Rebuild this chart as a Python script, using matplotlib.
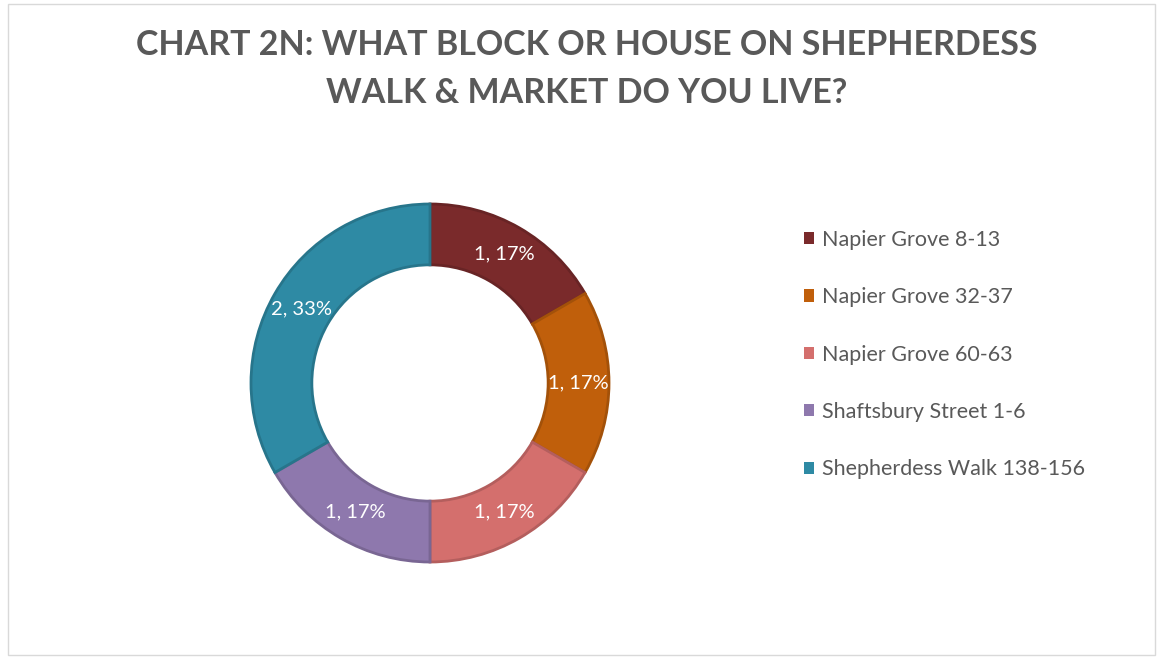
#!/usr/bin/env python
# -*- coding: utf-8 -*-

"""
Donut chart: which block or house on Shepherdess Walk & Market do you live?
"""

import matplotlib
matplotlib.use("Agg")
import matplotlib.pyplot as plt
from matplotlib.patches import Rectangle, Patch
from matplotlib.colors import to_rgb

blocks = ["Napier Grove 8-13", "Napier Grove 32-37", "Napier Grove 60-63",
          "Shaftsbury Street 1-6", "Shepherdess Walk 138-156"]
counts = [1, 1, 1, 1, 2]
colors = ["#7a2a2b", "#c05f0b", "#d46f6d", "#8e78ad", "#2e8aa4"]

title = "CHART 2N: WHAT BLOCK OR HOUSE ON SHEPHERDESS\nWALK & MARKET DO YOU LIVE?"
text_grey = "#595959"

plt.rcParams["font.family"] = ["Lato", "DejaVu Sans"]

W, H = 1160, 658
fig = plt.figure(figsize=(W / 100, H / 100), dpi=100)

# Thin frame round the whole chart.
fig.patches.append(Rectangle((8 / W, 3 / H), 1147 / W, 651 / H, transform=fig.transFigure,
                             fill=False, edgecolor="#d9d9d9", linewidth=1))

fig.text(587 / W, 1 - 69 / H, title, ha="center", va="center", fontsize=24.5,
         fontweight="bold", color=text_grey, linespacing=1.62)

# Donut axes, centre at (430, 383) px, outer radius 179 px.
cx, cy, r = 430, 383, 179
ax = fig.add_axes([(cx - r) / W, (H - cy - r) / H, 2 * r / W, 2 * r / H])

total = sum(counts)
labels = [f"{c}, {round(100 * c / total)}%" for c in counts]
edge = [tuple(v * 0.85 for v in to_rgb(c)) for c in colors]

wedges, texts = ax.pie(counts, colors=colors, startangle=90, counterclock=False,
                       radius=1, labels=labels, labeldistance=0.83,
                       wedgeprops=dict(width=0.34, linewidth=2),
                       textprops=dict(color="white", fontsize=14.5, ha="center", va="center"))
for w, e in zip(wedges, edge):
    w.set_edgecolor(e)
ax.set_xlim(-1, 1)
ax.set_ylim(-1, 1)
ax.set_aspect("equal")
ax.axis("off")

handles = [Patch(facecolor=c, edgecolor="none") for c in colors]
leg = fig.legend(handles, blocks, loc="upper left", bbox_to_anchor=(795 / W, 1 - 221 / H),
                 frameon=False, fontsize=15.5, handlelength=0.5, handleheight=0.5,
                 handletextpad=0.35, labelspacing=1.74, borderaxespad=0)
for t in leg.get_texts():
    t.set_color(text_grey)

plt.savefig("out.png", dpi=100)
